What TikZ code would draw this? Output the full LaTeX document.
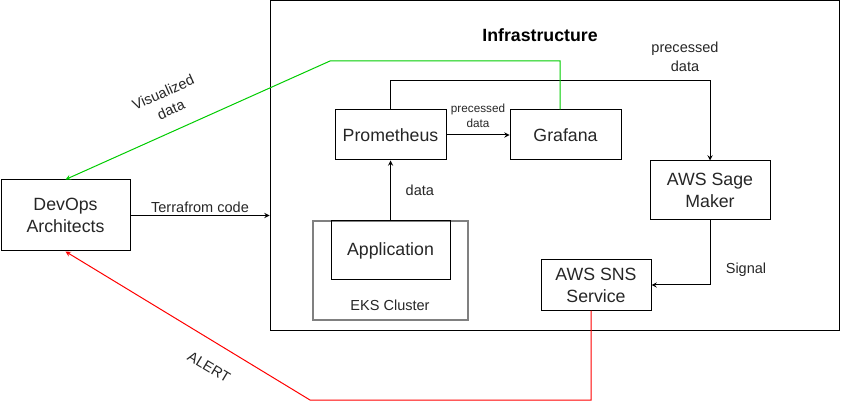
\documentclass[tikz,border=0pt]{standalone}
\usepackage{fontspec}
\setmainfont{Liberation Sans}
\definecolor{drawgreen}{RGB}{0,204,0}
\definecolor{drawred}{RGB}{255,0,0}
\definecolor{drawgray}{RGB}{128,128,128}

\begin{document}
\begin{tikzpicture}[x=0.75pt,y=-0.75pt,line width=0.75pt,
	box/.style 2 args={draw,rectangle,minimum width=#1*0.75pt,minimum height=#2*0.75pt,
		inner sep=0pt,align=center,text=black!85,font=\fontsize{13.3}{16.5}\selectfont},
	lbl/.style={font=\fontsize{10.9}{14.3}\selectfont,align=center,text=black!85,inner sep=1pt},
	tiny/.style={font=\fontsize{8.8}{11.3}\selectfont,align=center,text=black!85,inner sep=1pt}]
	\useasboundingbox (0,0) rectangle (841,409);

	% boxes
	\node[box={569}{329}] (infra) at (554.5,165.5) {};
	\node[font=\bfseries\fontsize{13.3}{16}\selectfont] (title) at (540,35) {Infrastructure};
	\node[box={129}{71}] (devops) at (65.5,215.5) {DevOps\\Architects};
	\node[box={111}{50}] (prom) at (390.5,135) {Prometheus};
	\node[box={111}{50}] (graf) at (565.5,135) {Grafana};
	\node[box={120}{59}] (sage) at (710,190.5) {AWS Sage\\Maker};
	\node[box={110}{50}] (sns) at (596,285) {AWS SNS\\Service};
	\node[box={155}{99},draw=drawgray,line width=1.2pt] (eks) at (390.5,270.5) {};
	\node[box={119}{59}] (app) at (390.5,250.5) {Application};
	\node[lbl] (ekslbl) at (390,305) {EKS Cluster};

	% flows
	\draw[-stealth] (devops.east) -- (devops.east -| infra.west)
		node[lbl,midway,above=1pt] {Terrafrom code};
	\draw[-stealth] (app.north) -- (prom.south) node[lbl,midway,right=10pt] {data};
	\draw[-stealth] (prom.east) -- (graf.west) node[tiny,midway,above=4pt] {precessed\\data};
	\coordinate (pd) at (710,81);
	\draw[-stealth] (prom.north) |- (pd) -- (sage.north);
	\node[lbl] (pdlbl) at (685,57) {precessed\\data};
	\draw[-stealth] (sage.south) |- (sns.east);
	\node[lbl] (siglbl) at (746,270) {Signal};

	% feedback to the architects
	\coordinate (gv) at (330,61);
	\draw[drawgreen,-stealth] ([xshift=-4.1pt]graf.north) |- (gv) -- (devops.north);
	\node[lbl,rotate=24] (vislbl) at (167,101) {Visualized\\data};
	\coordinate (ra) at (310,400);
	\draw[drawred,-stealth] ([xshift=-3.75pt]sns.south) |- (ra) -- (devops.south);
	\node[lbl,rotate=-31] (alertlbl) at (209,367) {ALERT};
\end{tikzpicture}
\end{document}
